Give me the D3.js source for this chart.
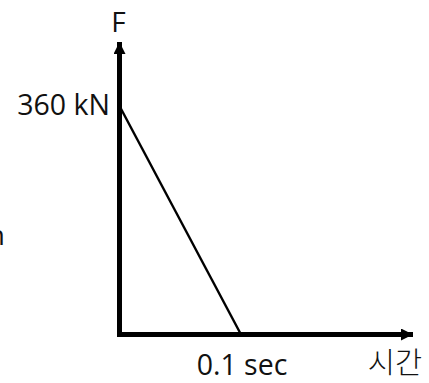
<!DOCTYPE html>
<html>
<head>
<meta charset="utf-8">
<script src="https://cdn.jsdelivr.net/npm/d3@7"></script>
<style>
  html, body { margin: 0; padding: 0; background: #fff; }
  svg { display: block; }
  text { font-family: "Open Sans", "Noto Sans CJK KR", sans-serif; fill: #111; }
</style>
</head>
<body>
<svg id="chart" width="429" height="383"></svg>
<script>
// Force–time pulse: linear drop from peak force to zero
const times = [0, 0.1];            // sec
const forces = [360, 0];           // kN
const xTickValues = [0.1];
const xTickLabels = ["0.1 sec"];
const yTickValues = [360];
const yTickLabels = ["360 kN"];
const xAxisTitle = "시간";
const yAxisTitle = "F";

const W = 429, H = 383;
const origin = { x: 119.5, y: 334.5 };
const xEnd = 413, yEnd = 42;

const x = d3.scaleLinear().domain([0, 0.1]).range([origin.x, 241]);
const y = d3.scaleLinear().domain([0, 360]).range([origin.y, 106]);

const svg = d3.select("#chart");

// arrow heads
const defs = svg.append("defs");
defs.append("marker")
  .attr("id", "arrow")
  .attr("viewBox", "0 0 12 12")
  .attr("refX", 12).attr("refY", 6)
  .attr("markerWidth", 13).attr("markerHeight", 12)
  .attr("markerUnits", "userSpaceOnUse")
  .attr("orient", "auto")
  .append("path")
  .attr("d", "M0,0 L12,6 L0,12 Z")
  .attr("fill", "#000");

// force curve
const line = d3.line().x((d, i) => x(times[i])).y(d => y(d));
svg.append("path")
  .datum(forces)
  .attr("d", line)
  .attr("fill", "none")
  .attr("stroke", "#000")
  .attr("stroke-width", 2.4);

// axes
svg.append("line")
  .attr("x1", origin.x - 2.5).attr("y1", origin.y)
  .attr("x2", xEnd).attr("y2", origin.y)
  .attr("stroke", "#000").attr("stroke-width", 5)
  .attr("marker-end", "url(#arrow)");
svg.append("line")
  .attr("x1", origin.x).attr("y1", origin.y + 2.5)
  .attr("x2", origin.x).attr("y2", yEnd)
  .attr("stroke", "#000").attr("stroke-width", 5)
  .attr("marker-end", "url(#arrow)");

// tick labels
svg.selectAll("text.xtick")
  .data(xTickValues)
  .join("text")
  .attr("class", "xtick")
  .attr("x", d => x(d) + 1)
  .attr("y", 375)
  .attr("text-anchor", "middle")
  .attr("font-size", 28.5)
  .text((d, i) => xTickLabels[i]);

svg.selectAll("text.ytick")
  .data(yTickValues)
  .join("text")
  .attr("class", "ytick")
  .attr("x", 110)
  .attr("y", d => y(d) + 9)
  .attr("text-anchor", "end")
  .attr("font-size", 28.5)
  .text((d, i) => yTickLabels[i]);

// axis titles
svg.append("text")
  .attr("x", 395).attr("y", 373)
  .attr("text-anchor", "middle")
  .attr("font-family", "'Noto Sans CJK KR', sans-serif")
  .attr("font-weight", 300)
  .attr("font-size", 29.5)
  .text(xAxisTitle);

svg.append("text")
  .attr("x", origin.x - 1).attr("y", 32)
  .attr("text-anchor", "middle")
  .attr("font-size", 28)
  .text(yAxisTitle);

// clipped letter at the left margin
svg.append("text")
  .attr("x", 5).attr("y", 245)
  .attr("text-anchor", "end")
  .attr("font-size", 28)
  .text("n");
</script>
</body>
</html>
